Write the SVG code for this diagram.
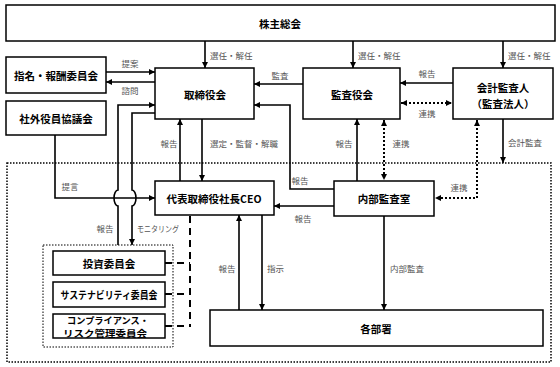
<svg xmlns="http://www.w3.org/2000/svg" width="560" height="367" viewBox="0 0 560 367">
<style>
.box{fill:#fff;stroke:#000;stroke-width:1.5}
.nt{font-family:"Noto Sans CJK JP","Noto Sans",sans-serif;font-weight:bold;font-size:10.5px;fill:#000;text-anchor:middle;dominant-baseline:central}
.sm{font-size:9px}
.lb{font-family:"Noto Sans CJK JP","Noto Sans",sans-serif;font-size:8.5px;fill:#555;dominant-baseline:central}
.ln{fill:none;stroke:#000;stroke-width:1.6}
.dot{fill:none;stroke:#000;stroke-width:2;stroke-dasharray:2 2}
.dash{fill:none;stroke:#000;stroke-width:2;stroke-dasharray:7 5}
</style>
<defs>
<marker id="a" markerUnits="userSpaceOnUse" markerWidth="6" markerHeight="6" refX="6" refY="3" orient="auto-start-reverse"><path d="M0,0L6,3L0,6z" fill="#000"/></marker>
</defs>
<rect width="560" height="367" fill="#fff"/>
<g id="regions">
<rect x="7" y="163" width="544" height="199" fill="none" stroke="#000" stroke-width="1.5" stroke-dasharray="1.5 1.5"/>
<rect x="43" y="245" width="130" height="102" fill="none" stroke="#000" stroke-width="1" stroke-dasharray="1.5 1.5"/>
</g>
<g id="connectors">
<path class="ln" d="M205,41V68" marker-end="url(#a)"/>
<path class="ln" d="M353,41V68" marker-end="url(#a)"/>
<path class="ln" d="M503,41V68" marker-end="url(#a)"/>
<path class="ln" d="M106,72H155" marker-end="url(#a)"/>
<path class="ln" d="M155,82H106" marker-end="url(#a)"/>
<path class="ln" d="M303,84H254" marker-end="url(#a)"/>
<path class="ln" d="M334,189H290V105H254" marker-end="url(#a)"/>
<path class="ln" d="M453,83H400" marker-end="url(#a)"/>
<path class="dot" d="M401,103H452" marker-start="url(#a)" marker-end="url(#a)"/>
<path class="ln" d="M118,245V206A4 8 0 0 1 118,190V105H155" marker-end="url(#a)"/>
<path class="ln" d="M155,113H132V190A4 8 0 0 1 132,206V245" marker-end="url(#a)"/>
<path class="ln" d="M55,135V198H155" marker-end="url(#a)"/>
<path class="ln" d="M180,181V119" marker-end="url(#a)"/>
<path class="ln" d="M202,119V181" marker-end="url(#a)"/>
<path class="ln" d="M357,181V119" marker-end="url(#a)"/>
<path class="dot" d="M384,120V180" marker-start="url(#a)" marker-end="url(#a)"/>
<path class="dot" d="M477,120V198H435" marker-start="url(#a)" marker-end="url(#a)"/>
<path class="ln" d="M503,119V163" marker-end="url(#a)"/>
<path class="ln" d="M334,206H274" marker-end="url(#a)"/>
<path class="ln" d="M384,216V310" marker-end="url(#a)"/>
<path class="ln" d="M239,310V215" marker-end="url(#a)"/>
<path class="ln" d="M262,215V310" marker-end="url(#a)"/>
<path class="dash" d="M190,216V327"/>
<path class="dash" d="M165,263H190"/>
<path class="dash" d="M165,294H190"/>
<path class="dash" d="M165,326H190"/>
</g>
<g id="labels">
<text class="lb" x="210" y="55">選任・解任</text>
<text class="lb" x="358" y="55">選任・解任</text>
<text class="lb" x="508" y="55">選任・解任</text>
<text class="lb" x="130" y="63" text-anchor="middle">提案</text>
<text class="lb" x="130" y="90" text-anchor="middle">諮問</text>
<text class="lb" x="280" y="75" text-anchor="middle">監査</text>
<text class="lb" x="427" y="73" text-anchor="middle">報告</text>
<text class="lb" x="427" y="113" text-anchor="middle">連携</text>
<text class="lb" x="169" y="143" text-anchor="middle">報告</text>
<text class="lb" x="210" y="143">選定・監督・解職</text>
<text class="lb" x="344" y="143" text-anchor="middle">報告</text>
<text class="lb" x="401" y="143" text-anchor="middle">連携</text>
<text class="lb" x="508" y="142">会計監査</text>
<text class="lb" x="300" y="180" text-anchor="middle">報告</text>
<text class="lb" x="459" y="187" text-anchor="middle">連携</text>
<text class="lb" x="70" y="186" text-anchor="middle">提言</text>
<text class="lb" x="303" y="218" text-anchor="middle">報告</text>
<text class="lb" x="105" y="228" text-anchor="middle">報告</text>
<text class="lb" x="137" y="228" textLength="42" lengthAdjust="spacingAndGlyphs">モニタリング</text>
<text class="lb" x="227" y="268" text-anchor="middle">報告</text>
<text class="lb" x="267" y="268">指示</text>
<text class="lb" x="390" y="268">内部監査</text>
</g>
<g id="n-shareholders"><rect class="box" x="6" y="5" width="549" height="36"/><text class="nt" x="280" y="23">株主総会</text></g>
<g id="n-nomination"><rect class="box" x="6" y="57" width="100" height="36"/><text class="nt" x="56" y="75">指名・報酬委員会</text></g>
<g id="n-outside"><rect class="box" x="6" y="101" width="100" height="34"/><text class="nt" x="56" y="118">社外役員協議会</text></g>
<g id="n-board"><rect class="box" x="155" y="68" width="99" height="51"/><text class="nt" x="205" y="94">取締役会</text></g>
<g id="n-audit"><rect class="box" x="303" y="68" width="97" height="51"/><text class="nt" x="352" y="94">監査役会</text></g>
<g id="n-accountant"><rect class="box" x="453" y="68" width="100" height="51"/><text class="nt" x="503" y="87">会計監査人</text><text class="nt" x="503" y="103">（監査法人）</text></g>
<g id="n-ceo"><rect class="box" x="155" y="181" width="119" height="34"/><text class="nt" x="214" y="198">代表取締役社長CEO</text></g>
<g id="n-internal"><rect class="box" x="334" y="181" width="100" height="35"/><text class="nt" x="384" y="198">内部監査室</text></g>
<g id="n-depts"><rect class="box" x="210" y="310" width="333" height="36"/><text class="nt" x="376" y="328">各部署</text></g>
<g id="n-invest"><rect class="box" x="53" y="251" width="112" height="24"/><text class="nt" x="109" y="263">投資委員会</text></g>
<g id="n-sustain"><rect class="box" x="53" y="282" width="112" height="25"/><text class="nt" x="109" y="294.5" textLength="97" lengthAdjust="spacingAndGlyphs">サステナビリティ委員会</text></g>
<g id="n-compliance"><rect class="box" x="53" y="314" width="112" height="24"/><text class="nt sm"><tspan x="108" y="320" textLength="82" lengthAdjust="spacingAndGlyphs">コンプライアンス・</tspan><tspan x="105" y="332.5" textLength="84" lengthAdjust="spacingAndGlyphs">リスク管理委員会</tspan></text></g>
</svg>
